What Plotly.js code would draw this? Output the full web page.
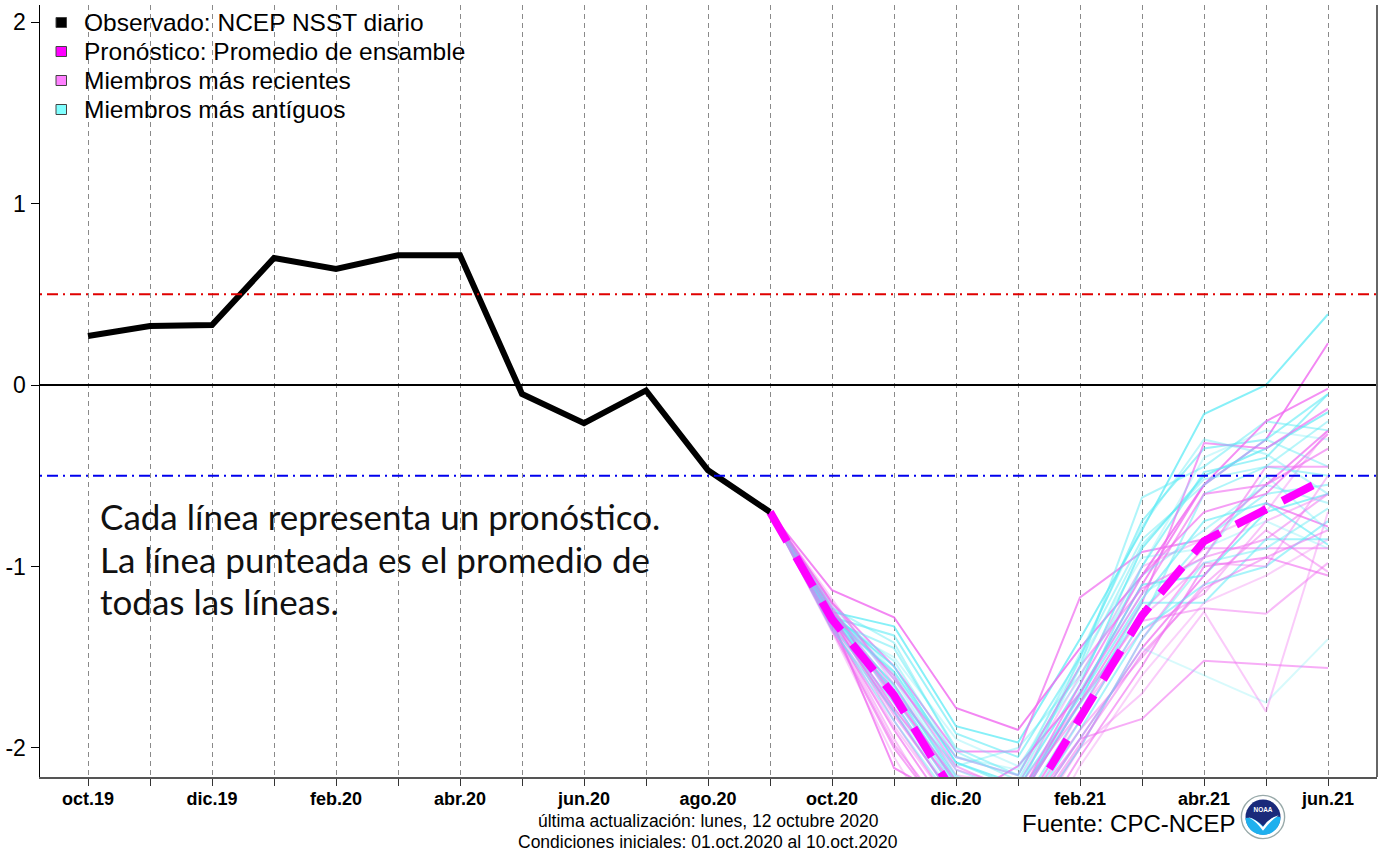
<!DOCTYPE html>
<html><head><meta charset="utf-8">
<script src="https://cdn.plot.ly/plotly-3.0.1.min.js"></script>
<style>body{margin:0;background:#fff}#chart{width:1383px;height:852px}</style>
</head><body><div id="chart"></div>
<script>
// ---- data ----
const months = ['oct.19','nov.19','dic.19','ene.20','feb.20','mar.20','abr.20','may.20','jun.20','jul.20','ago.20','sep.20',
                'oct.20','nov.20','dic.20','ene.21','feb.21','mar.21','abr.21','may.21','jun.21'];
const tickLabels = ['oct.19','','dic.19','','feb.20','','abr.20','','jun.20','','ago.20','',
                    'oct.20','','dic.20','','feb.21','','abr.21','','jun.21'];
const observed = [0.27,0.325,0.33,0.70,0.64,0.715,0.715,-0.05,-0.21,-0.03,-0.47,-0.70];
const forecastMonths = months.slice(11); // sep.20 .. jun.21
const ensembleMean = [-0.70,-1.29,-1.71,-2.27,-2.40,-1.83,-1.27,-0.86,-0.69,-0.51];

const recentMembers = [
  [-0.70,-1.13,-1.28,-1.78,-1.90,-1.45,-1.05,-0.55,-0.30,0.23],
  [-0.70,-1.20,-1.55,-2.02,-2.02,-1.17,-0.92,-0.85,-0.55,-0.25],
  [-0.70,-1.25,-1.70,-2.20,-2.40,-1.95,-1.84,-1.52,-1.54,-1.56],
  [-0.70,-1.30,-2.11,-2.30,-2.10,-1.70,-1.10,-0.55,-0.20,-0.02],
  [-0.70,-1.28,-1.85,-2.35,-2.50,-2.00,-1.40,-0.95,-0.85,-0.60],
  [-0.70,-1.33,-1.90,-2.40,-2.30,-1.75,-1.20,-0.32,-0.35,-0.13],
  [-0.70,-1.22,-1.75,-2.25,-2.35,-1.85,-1.30,-1.23,-1.26,-0.98],
  [-0.70,-1.35,-2.00,-2.45,-2.60,-2.05,-1.55,-1.00,-0.95,-1.05],
  [-0.70,-1.18,-1.65,-2.15,-2.20,-1.60,-1.00,-0.85,-0.70,-0.25],
  [-0.70,-1.30,-1.80,-2.30,-2.45,-1.95,-1.45,-1.05,-0.65,-0.78],
  [-0.70,-1.26,-1.60,-2.10,-2.25,-1.80,-1.25,-0.90,-0.90,-0.90],
  [-0.70,-1.32,-1.95,-2.50,-2.40,-1.80,-1.35,-1.15,-0.75,-0.60],
  [-0.70,-1.24,-1.72,-2.18,-2.30,-1.70,-1.15,-0.60,-0.55,-0.35],
  [-0.70,-1.36,-2.05,-2.60,-2.70,-2.10,-1.60,-1.20,-1.05,-0.85],
  [-0.70,-1.20,-1.62,-2.05,-2.15,-1.55,-1.12,-0.95,-0.45,-0.45],
  [-0.70,-1.28,-1.82,-2.28,-2.38,-1.90,-1.50,-1.10,-0.80,-1.03],
  [-0.70,-1.31,-1.88,-2.35,-2.55,-2.00,-1.70,-1.25,-1.80,-0.70],
  [-0.70,-1.27,-1.78,-2.22,-2.28,-1.65,-1.05,-0.70,-0.60,-0.27],
  [-0.70,-1.23,-1.68,-2.12,-2.22,-1.75,-1.28,-0.98,-1.00,-0.50],
  [-0.70,-1.34,-1.98,-2.42,-2.48,-1.98,-1.48,-1.12,-0.95,-0.80]
];
const olderMembers = [
  [-0.70,-1.25,-1.33,-1.88,-1.97,-1.40,-0.80,-0.16,0.00,0.39],
  [-0.70,-1.28,-1.38,-1.92,-2.05,-1.50,-0.75,-0.35,-0.30,-0.05],
  [-0.70,-1.30,-1.45,-2.00,-2.15,-1.55,-0.62,-0.45,-0.20,-0.25],
  [-0.70,-1.26,-1.55,-2.08,-2.20,-1.65,-0.90,-0.50,-0.35,-0.15],
  [-0.70,-1.24,-1.60,-2.12,-2.25,-1.50,-0.85,-0.55,-0.30,-0.45],
  [-0.70,-1.29,-1.65,-2.18,-2.30,-1.75,-1.00,-0.48,-0.40,-0.05],
  [-0.70,-1.27,-1.70,-2.10,-2.00,-1.60,-1.05,-0.80,-0.55,-0.65],
  [-0.70,-1.33,-1.75,-2.25,-2.35,-1.80,-1.20,-1.20,-0.85,-0.85],
  [-0.70,-1.22,-1.58,-2.05,-2.12,-1.52,-0.95,-0.90,-0.75,-0.90],
  [-0.70,-1.30,-1.68,-2.20,-2.28,-1.70,-1.10,-1.05,-0.70,-0.60],
  [-0.70,-1.35,-1.80,-2.30,-2.40,-1.85,-1.30,-0.60,-0.45,-0.50],
  [-0.70,-1.25,-1.62,-2.15,-2.32,-1.68,-1.15,-0.95,-0.50,-0.80],
  [-0.70,-1.28,-1.72,-2.22,-2.42,-1.90,-1.35,-1.10,-1.00,-0.75],
  [-0.70,-1.31,-1.50,-1.95,-2.10,-1.62,-1.00,-0.40,-0.25,-0.30],
  [-0.70,-1.26,-1.66,-2.16,-2.26,-1.76,-1.25,-0.85,-0.60,-0.55],
  [-0.70,-1.23,-1.42,-2.02,-2.18,-1.56,-0.88,-0.52,-0.45,-0.20],
  [-0.70,-1.32,-1.78,-2.28,-2.45,-1.95,-1.45,-1.60,-1.75,-1.40],
  [-0.70,-1.29,-1.58,-2.08,-2.22,-1.72,-1.18,-0.75,-0.65,-0.88],
  [-0.70,-1.27,-1.52,-2.05,-2.15,-1.48,-0.78,-0.30,-0.38,-0.60],
  [-0.70,-1.34,-1.85,-2.32,-2.50,-2.00,-1.40,-0.98,-0.90,-0.68]
];
const yTicks = [-2,-1,0,1,2];
const yTickLabels = ['-2','-1','0','1','2'];
const thresholds = [0.5,-0.5,0];

// ---- styles ----
const recentAlpha = [0.8,0.7,0.55,0.75,0.5,0.65,0.45,0.6,0.35,0.7,0.5,0.4,0.6,0.3,0.55,0.45,0.35,0.65,0.4,0.5];
const olderAlpha  = [0.75,0.6,0.5,0.7,0.45,0.6,0.4,0.55,0.3,0.65,0.5,0.35,0.55,0.3,0.5,0.45,0.25,0.6,0.4,0.45];

const idx = months.map((m,i)=>i);
const fIdx = forecastMonths.map((m,i)=>i+11);

const traces = [];
for (let k=0;k<20;k++){
  traces.push({x:fIdx, y:olderMembers[k], type:'scatter', mode:'lines', hoverinfo:'skip', showlegend:false,
    line:{color:`rgba(95,235,245,${olderAlpha[k]})`, width:2}});
  traces.push({x:fIdx, y:recentMembers[k], type:'scatter', mode:'lines', hoverinfo:'skip', showlegend:false,
    line:{color:`rgba(240,105,240,${recentAlpha[k]})`, width:2}});
}
traces.push({x:fIdx, y:ensembleMean, type:'scatter', mode:'lines', showlegend:false,
  line:{color:'#ff00ff', width:8, dash:'34px,18px'}});
traces.push({x:idx.slice(0,observed.length), y:observed, type:'scatter', mode:'lines', showlegend:false,
  line:{color:'#000', width:6}});

// plot area in px: left 40, right 1377, top 5, bottom 777
const L=40, R=1377, T=5, B=777;
const px = v => (v-L)/(R-L);
const py = v => (B-v)/(B-T);

const shapes = [
  {type:'line', xref:'paper', x0:0, x1:1, yref:'y', y0:thresholds[0], y1:thresholds[0], line:{color:'#e00000', width:2, dash:'2px,5px,11px,5px'}},
  {type:'line', xref:'paper', x0:0, x1:1, yref:'y', y0:thresholds[1], y1:thresholds[1], line:{color:'#0000ee', width:2, dash:'2px,5px,11px,5px'}},
  {type:'line', xref:'paper', x0:0, x1:1, yref:'y', y0:thresholds[2], y1:thresholds[2], line:{color:'#000', width:2}},
  {type:'line', xref:'paper', yref:'paper', x0:1, x1:1, y0:0, y1:1, line:{color:'#666', width:2}}
];

const legendItems = [
  {label:'Observado: NCEP NSST diario', fill:'#000000', cy:22.5},
  {label:'Pronóstico: Promedio de ensamble', fill:'#ff00ff', cy:51.5},
  {label:'Miembros más recientes', fill:'#ff80ff', cy:80.5},
  {label:'Miembros más antíguos', fill:'#80ffff', cy:109.5}
];
const annotations = [];
legendItems.forEach(it=>{
  shapes.push({type:'rect', xref:'paper', yref:'paper', x0:px(56), x1:px(66.5), y0:py(it.cy+5), y1:py(it.cy-5),
    fillcolor:it.fill, line:{color:'#444', width:1}});
  annotations.push({xref:'paper', yref:'paper', x:px(82), y:py(it.cy), xanchor:'left', yanchor:'middle',
    text:it.label, showarrow:false, font:{family:'Liberation Sans, Arial, sans-serif', size:24.5, color:'#000'}});
});

const noteLines = ['Cada línea representa un pronóstico.','La línea punteada es el promedio de','todas las líneas.'];
const noteY = [516, 559, 601];
noteLines.forEach((t,i)=>{
  annotations.push({xref:'paper', yref:'paper', x:px(98), y:py(noteY[i]), xanchor:'left', yanchor:'middle',
    text:t, showarrow:false, font:{family:'Lato, "Open Sans", sans-serif', size:35, color:'#111'}});
});

annotations.push({xref:'paper', yref:'paper', x:px(708), y:py(821), xanchor:'center', yanchor:'middle', showarrow:false,
  text:'última actualización: lunes, 12 octubre 2020', font:{family:'Liberation Sans, Arial, sans-serif', size:17.5, color:'#000'}});
annotations.push({xref:'paper', yref:'paper', x:px(708), y:py(842), xanchor:'center', yanchor:'middle', showarrow:false,
  text:'Condiciones iniciales: 01.oct.2020 al 10.oct.2020', font:{family:'Liberation Sans, Arial, sans-serif', size:17.5, color:'#000'}});
annotations.push({xref:'paper', yref:'paper', x:px(1020), y:py(823), xanchor:'left', yanchor:'middle', showarrow:false,
  text:'Fuente: CPC-NCEP', font:{family:'Liberation Sans, Arial, sans-serif', size:24, color:'#000'}});

const logoSvg = `<svg xmlns="http://www.w3.org/2000/svg" width="100" height="100" viewBox="0 0 100 100">
<circle cx="50" cy="50" r="47" fill="#fff" stroke="#9aa" stroke-width="3"/>
<circle cx="50" cy="50" r="38" fill="#1a2a7a"/>
<path d="M12 52 Q30 48 50 70 Q70 45 88 50 A38 38 0 0 1 12 52 Z" fill="#1fb0ee"/>
<path d="M18 50 Q35 55 50 72 Q62 52 84 46 Q66 58 50 80 Q36 60 18 50 Z" fill="#fff"/>
<text x="50" y="40" font-family="Arial" font-weight="bold" font-size="14" fill="#fff" text-anchor="middle">NOAA</text>
</svg>`;
const images = [{source:'data:image/svg+xml;charset=utf-8,'+encodeURIComponent(logoSvg),
  xref:'paper', yref:'paper', x:px(1240), y:py(794), sizex:(46)/(R-L), sizey:(46)/(B-T),
  xanchor:'left', yanchor:'top', sizing:'contain', layer:'above'}];

const layout = {
  width:1383, height:852,
  margin:{l:L, r:1383-R, t:T, b:852-B, pad:0},
  paper_bgcolor:'#fff', plot_bgcolor:'#fff',
  showlegend:false,
  xaxis:{range:[(L-88)/62, (R-88)/62], tickmode:'array', tickvals:idx, ticktext:tickLabels,
    showgrid:true, gridcolor:'#8a8a8a', gridwidth:1, griddash:'5px,4px',
    zeroline:false, showline:true, linecolor:'#555', linewidth:2,
    ticks:'outside', ticklen:7, tickcolor:'#333', tickwidth:1, ticklabelstandoff:-3,
    tickfont:{family:'Liberation Sans, Arial, sans-serif', size:18, color:'#000', weight:'bold'}},
  yaxis:{range:[-2.16, 2.094], tickmode:'array', tickvals:yTicks, ticktext:yTickLabels,
    showgrid:false, zeroline:false, showline:true, linecolor:'#000', linewidth:1.5,
    ticks:'outside', ticklen:8, tickcolor:'#000', tickwidth:1,
    tickfont:{family:'Liberation Sans, Arial, sans-serif', size:23, color:'#000'}},
  shapes:shapes, annotations:annotations, images:images
};
Plotly.newPlot('chart', traces, layout, {staticPlot:true, displayModeBar:false});
</script></body></html>
